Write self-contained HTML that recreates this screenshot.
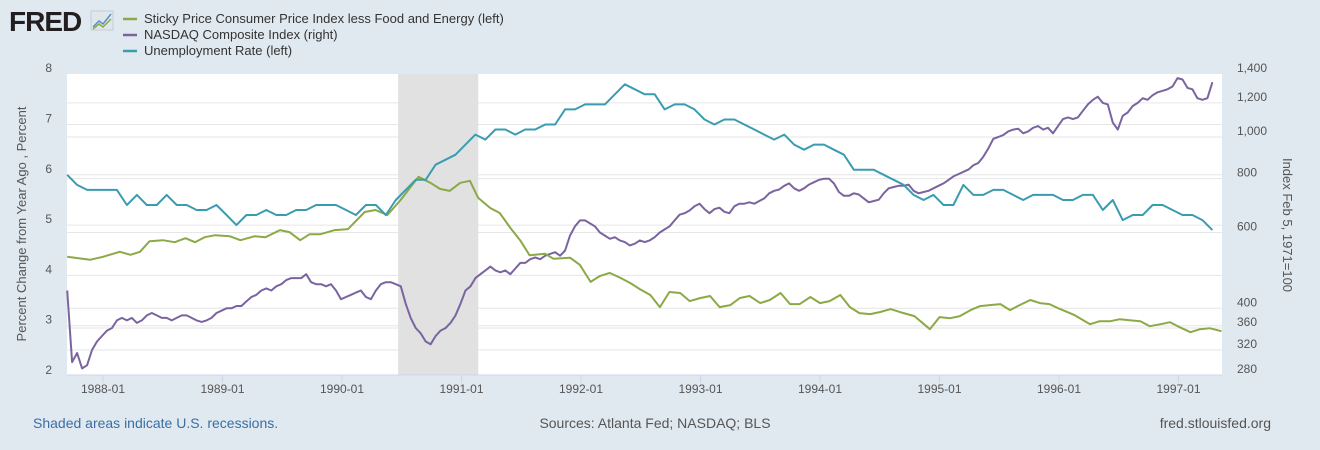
<!DOCTYPE html>
<html><head><meta charset="utf-8"><style>
body{margin:0;background:#e1e9f0;font-family:"Liberation Sans",sans-serif;}
#wrap{position:relative;width:1320px;height:450px;overflow:hidden;background:#e1e9f0;}
</style></head><body>
<div id="wrap">
<svg id="chart" width="1320" height="450" xmlns="http://www.w3.org/2000/svg">
  <g>
    <text x="9" y="31" font-family="Liberation Sans" font-weight="bold" font-size="28" fill="#231f20" letter-spacing="-1">FRED</text>
    <rect x="91" y="11" width="22" height="19" fill="#dfe6ec" stroke="#c5ccd3"/>
    <polyline points="93,27 99,21 103,24 111,14" fill="none" stroke="#5a8fc4" stroke-width="1.5"/>
    <polyline points="93,29 99,24 103,27 111,19" fill="none" stroke="#8ba945" stroke-width="1.5"/>
  </g>
  <g font-size="13" fill="#333">
    <g><line x1="123" y1="19" x2="137" y2="19" stroke="#8ba945" stroke-width="2.5"/><text x="144" y="23">Sticky Price Consumer Price Index less Food and Energy (left)</text></g>
    <g><line x1="123" y1="35" x2="137" y2="35" stroke="#7a64a0" stroke-width="2.5"/><text x="144" y="39">NASDAQ Composite Index (right)</text></g>
    <g><line x1="123" y1="51" x2="137" y2="51" stroke="#3a9cb0" stroke-width="2.5"/><text x="144" y="55">Unemployment Rate (left)</text></g>
  </g>
  <rect x="67" y="74" width="1155" height="301" fill="#fff"/>
  <g id="grid"></g>
  <g id="rec"></g>
  <g id="series"></g>
  <g id="axes" font-size="12" fill="#555"></g>
  <text transform="translate(26,224) rotate(-90)" text-anchor="middle" font-size="13" fill="#555">Percent Change from Year Ago , Percent</text>
  <text transform="translate(1283,225) rotate(90)" text-anchor="middle" font-size="13" fill="#555">Index Feb 5, 1971=100</text>
  <text x="33" y="428" font-size="14" fill="#3a6ea5">Shaded areas indicate U.S. recessions.</text>
  <text x="655" y="428" font-size="14" fill="#555" text-anchor="middle">Sources: Atlanta Fed; NASDAQ; BLS</text>
  <text x="1271" y="428" font-size="14" fill="#555" text-anchor="end">fred.stlouisfed.org</text>
</svg>
</div>
<script>
const xTickYears = [1988,1989,1990,1991,1992,1993,1994,1995,1996,1997];
const leftTicks = [2,3,4,5,6,7,8];
const rightTicks = [280,320,360,400,600,800,1000,1200,1400];
const rightTickLabels = ["280","320","360","400","600","800","1,000","1,200","1,400"];
const recessions = [[1990.47,1991.14]];
const stickyYears = [1987.70,1987.89,1988.0,1988.14,1988.23,1988.31,1988.39,1988.50,1988.60,1988.69,1988.77,1988.85,1988.94,1989.06,1989.15,1989.27,1989.36,1989.48,1989.56,1989.65,1989.73,1989.82,1989.94,1990.05,1990.19,1990.28,1990.38,1990.49,1990.64,1990.74,1990.82,1990.90,1990.99,1991.07,1991.14,1991.24,1991.32,1991.41,1991.49,1991.57,1991.70,1991.77,1991.91,1991.99,1992.08,1992.16,1992.24,1992.33,1992.41,1992.49,1992.58,1992.66,1992.74,1992.83,1992.91,1993.00,1993.08,1993.16,1993.25,1993.33,1993.41,1993.50,1993.58,1993.67,1993.75,1993.83,1993.92,1994.00,1994.08,1994.17,1994.25,1994.33,1994.42,1994.50,1994.59,1994.67,1994.79,1994.92,1995.00,1995.09,1995.17,1995.26,1995.34,1995.42,1995.51,1995.59,1995.67,1995.76,1995.84,1995.92,1996.01,1996.13,1996.26,1996.34,1996.43,1996.51,1996.59,1996.68,1996.76,1996.85,1996.93,1997.01,1997.10,1997.18,1997.26,1997.36];
const stickyValues = [4.37,4.31,4.37,4.47,4.41,4.47,4.68,4.70,4.66,4.74,4.66,4.76,4.80,4.78,4.70,4.78,4.76,4.90,4.86,4.70,4.82,4.82,4.90,4.92,5.26,5.30,5.20,5.50,5.96,5.84,5.72,5.68,5.84,5.88,5.54,5.34,5.24,4.94,4.70,4.40,4.43,4.33,4.35,4.21,3.87,3.99,4.05,3.95,3.85,3.73,3.61,3.37,3.67,3.65,3.49,3.55,3.59,3.37,3.41,3.55,3.59,3.45,3.51,3.65,3.43,3.43,3.57,3.45,3.49,3.61,3.37,3.25,3.23,3.27,3.33,3.27,3.19,2.93,3.17,3.15,3.19,3.31,3.39,3.41,3.43,3.31,3.41,3.51,3.45,3.43,3.33,3.21,3.03,3.09,3.09,3.13,3.11,3.09,2.99,3.03,3.07,2.97,2.87,2.93,2.95,2.89];
const unempStart = 1987.70;
const unempValues = [6.0,5.8,5.7,5.7,5.7,5.7,5.4,5.6,5.4,5.4,5.6,5.4,5.4,5.3,5.3,5.4,5.2,5.0,5.2,5.2,5.3,5.2,5.2,5.3,5.3,5.4,5.4,5.4,5.3,5.2,5.4,5.4,5.2,5.5,5.7,5.9,5.9,6.2,6.3,6.4,6.6,6.8,6.7,6.9,6.9,6.8,6.9,6.9,7.0,7.0,7.3,7.3,7.4,7.4,7.4,7.6,7.8,7.7,7.6,7.6,7.3,7.4,7.4,7.3,7.1,7.0,7.1,7.1,7.0,6.9,6.8,6.7,6.8,6.6,6.5,6.6,6.6,6.5,6.4,6.1,6.1,6.1,6.0,5.9,5.8,5.6,5.5,5.6,5.4,5.4,5.8,5.6,5.6,5.7,5.7,5.6,5.5,5.6,5.6,5.6,5.5,5.5,5.6,5.6,5.3,5.5,5.1,5.2,5.2,5.4,5.4,5.3,5.2,5.2,5.1,4.9];
const nasdaqStart = 1987.70;
const nasdaqValues = [440,300,315,290,295,320,335,345,355,360,375,380,375,380,370,375,385,390,385,380,380,375,380,385,385,380,375,372,375,380,390,395,400,400,405,405,415,425,430,440,445,440,450,455,465,470,470,470,480,460,455,455,450,455,440,420,425,430,435,440,425,420,440,455,460,460,455,450,410,380,360,350,335,330,345,355,360,370,385,410,440,450,470,480,490,500,490,485,490,480,495,510,510,520,525,520,530,535,540,530,545,590,620,640,640,630,620,600,590,580,585,575,570,560,565,575,570,575,585,600,610,620,640,660,665,675,690,700,680,665,680,685,670,665,690,700,700,705,700,710,720,740,750,755,770,780,760,750,760,775,785,795,800,800,780,745,730,730,740,735,720,705,710,715,740,760,765,770,770,775,750,740,745,750,760,770,780,795,810,820,830,840,860,870,900,940,990,1000,1010,1030,1040,1045,1020,1030,1050,1060,1040,1050,1020,1060,1100,1110,1100,1110,1150,1190,1220,1240,1200,1190,1080,1040,1120,1140,1180,1200,1230,1220,1250,1270,1280,1290,1310,1370,1360,1300,1290,1230,1220,1230,1340];

const X0=67,X1=1222,Y0=74,Y1=375;
function xs(yr){return 103+(yr-1988)*119.5;}
function yl(v){return 376-50.3*(v-2);}
function yr(v){return 375-187*Math.log(v/280);}
const NS='http://www.w3.org/2000/svg';
function mk(tag,attrs,parent){const e=document.createElementNS(NS,tag);for(const k in attrs)e.setAttribute(k,attrs[k]);parent.appendChild(e);return e;}
const grid=document.getElementById('grid'),axes=document.getElementById('axes'),rec=document.getElementById('rec'),series=document.getElementById('series');

leftTicks.forEach(v=>{
  const y=yl(v);
  if(v>2&&v<8){const l=mk('line',{x1:X0,x2:X1,y1:y,y2:y,stroke:'#e6e6e6','stroke-width':1},grid);
  
  }
  const t=mk('text',{x:52,y:y-2,'text-anchor':'end'},axes);t.textContent=v;
  
  
});
rightTicks.forEach((v,i)=>{
  const y=yr(v);
  if(v>280&&v<1400){const l=mk('line',{x1:X0,x2:X1,y1:y,y2:y,stroke:'#e6e6e6','stroke-width':1},grid);
  
  }
  const t=mk('text',{x:1237,y:y-2},axes);t.textContent=rightTickLabels[i];
  
  
});
xTickYears.forEach(yv=>{
  const x=xs(yv);
  const l=mk('line',{x1:x,x2:x,y1:Y1,y2:Y1+8,stroke:'#ccd6eb'},axes);
  
  
  const t=mk('text',{x:x,y:393,'text-anchor':'middle'},axes);t.textContent=yv+'-01';
  
  
});
const bl=mk('line',{x1:X0,x2:X1,y1:Y1,y2:Y1,stroke:'#ccd6eb'},axes);


recessions.forEach(r=>{
  const e=mk('rect',{x:xs(r[0]),y:Y0,width:xs(r[1])-xs(r[0]),height:Y1-Y0,fill:'#e1e1e1'},rec);
  
  
});
function path(pts,color,w,name){
  const d=pts.map((p,i)=>(i?'L':'M')+p[0].toFixed(1)+','+p[1].toFixed(1)).join('');
  const e=mk('path',{d:d,fill:'none',stroke:color,'stroke-width':w,'stroke-linejoin':'round'},series);
  
  
}
path(nasdaqValues.map((v,i)=>[Math.min(X1,xs(nasdaqStart+i/24)),yr(v)]),'#7a64a0',2,'nasdaq-line');
path(stickyValues.map((v,i)=>[xs(stickyYears[i]),yl(v)]),'#8ba945',2,'sticky-cpi-line');
path(unempValues.map((v,i)=>[Math.min(X1,xs(unempStart+i/12)),yl(v)]),'#3a9cb0',2,'unemployment-line');
</script>
</body></html>
